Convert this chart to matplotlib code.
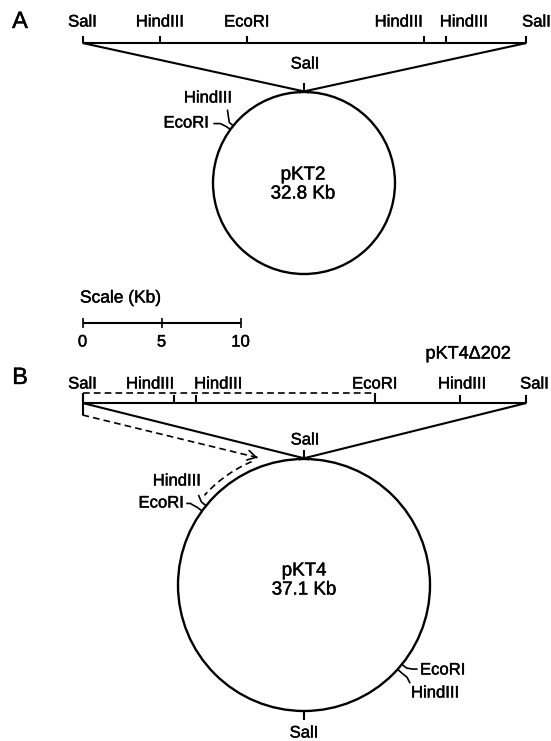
import numpy as np
import matplotlib.pyplot as plt
import matplotlib.patheffects as pe
from matplotlib.patches import Circle, FancyArrowPatch

plt.rcParams['font.family'] = ['Liberation Sans', 'DejaVu Sans']

# SalI fragments, site positions in kb from the left SalI site
frag_a_kb = [0.0, 4.9, 10.4, 21.6, 23.0, 28.1]
frag_a_names = ['SalI', 'HindIII', 'EcoRI', 'HindIII', 'HindIII', 'SalI']
frag_b_kb = [0.0, 5.8, 7.2, 18.5, 23.9, 28.1]
frag_b_names = ['SalI', 'HindIII', 'HindIII', 'EcoRI', 'HindIII', 'SalI']
deletion_kb = [0.0, 18.5]          # pKT4 delta202 region
deletion_name = 'pKT4\u0394202'

# plasmids: sites in degrees clockwise from top
pkt2_name, pkt2_size = 'pKT2', '32.8 Kb'
pkt2_deg = [0, 309, 306]
pkt2_names = ['SalI', 'HindIII', 'EcoRI']
pkt4_name, pkt4_size = 'pKT4', '37.1 Kb'
pkt4_deg = [0, 309, 306, 129, 132, 180]
pkt4_names = ['SalI', 'HindIII', 'EcoRI', 'EcoRI', 'HindIII', 'SalI']

scale_kb = [0, 5, 10]

# layout (pixel units of the figure)
PX_KB = 15.8
X0 = 82.5
LW = 1.5
FS_SITE = 12
FS_MID = 13.5
HEAVY = [pe.withStroke(linewidth=0.3, foreground='black')]

fig = plt.figure(figsize=(5.51, 7.41), dpi=100)
ax = fig.add_axes([0, 0, 1, 1])
ax.set_xlim(0, 551)
ax.set_ylim(741, 0)
ax.axis('off')


def kx(kb):
    return X0 + kb * PX_KB


def cpt(c, r, deg):
    a = np.radians(deg)
    return c[0] + r * np.sin(a), c[1] - r * np.cos(a)


def line(pts, **kw):
    pts = np.array(pts, dtype=float)
    kw.setdefault('color', 'black')
    kw.setdefault('lw', LW)
    ax.plot(pts[:, 0], pts[:, 1], solid_capstyle='butt', **kw)


def label(x, y, s, ha='center', size=FS_SITE, **kw):
    ax.text(x, y, s, ha=ha, va='center', fontsize=size, path_effects=HEAVY, **kw)


# ---------------- panel A ----------------
label(20, 22, 'A', size=17)
ya = 43
line([(kx(frag_a_kb[0]), ya), (kx(frag_a_kb[-1]), ya)])
a_lab_dx = [0, 0, 0, -25, 18, 10]
for kb, nm, dx in zip(frag_a_kb, frag_a_names, a_lab_dx):
    line([(kx(kb), ya), (kx(kb), ya - 7)])
    label(kx(kb) + dx, 22, nm)

ca, ra = (304, 183), 91
ax.add_patch(Circle(ca, ra, fill=False, lw=1.7, ec='black'))
line([(kx(frag_a_kb[0]), ya), (ca[0] + 5, ca[1] - ra + 0.5)])
line([(kx(frag_a_kb[-1]), ya), (ca[0] - 5, ca[1] - ra + 0.5)])
label(ca[0] - 1, ca[1] - 8, pkt2_name, size=FS_MID)
label(ca[0] - 1, ca[1] + 11, pkt2_size, size=FS_MID)

# SalI top
p0, p1 = cpt(ca, ra, pkt2_deg[0]), cpt(ca, ra + 9, pkt2_deg[0])
line([p0, p1])
label(p0[0] + 1, 64, pkt2_names[0])
# HindIII
p0, p1 = cpt(ca, ra, pkt2_deg[1]), cpt(ca, ra + 5, pkt2_deg[1])
line([p0, p1, (p1[0] - 1, p1[1] - 6), (p1[0] - 2, p1[1] - 13)], lw=1.2)
label(208, 98, pkt2_names[1])
# EcoRI
p0, p1 = cpt(ca, ra, pkt2_deg[2]), cpt(ca, ra + 5, pkt2_deg[2])
line([p0, p1, (p1[0] - 6, p1[1] - 3), (p1[0] - 13, p1[1] - 3)], lw=1.2)
label(209, 123, pkt2_names[2], ha='right')

# ---------------- scale bar ----------------
ys = 323
label(80, 298, 'Scale (Kb)', ha='left', size=12.5)
line([(kx(scale_kb[0]), ys), (kx(scale_kb[-1]), ys)])
for v in scale_kb:
    line([(kx(v), ys - 5), (kx(v), ys + 5)], lw=1.2)
    label(kx(v), 342, str(v), size=12)

# ---------------- panel B ----------------
label(20, 378, 'B', size=17)
label(468, 354, deletion_name, size=13)
yb, yd = 403, 393
line([(kx(frag_b_kb[0]), yb), (kx(frag_b_kb[-1]), yb)])
b_lab_dx = [0, -24, 22, 0, 2, 8]
for kb, nm, dx in zip(frag_b_kb, frag_b_names, b_lab_dx):
    top = yd if kb == deletion_kb[1] else yb - 8
    line([(kx(kb), yb), (kx(kb), top)])
    label(kx(kb) + dx, 384, nm)
# deletion bracket
line([(kx(deletion_kb[0]), yd), (kx(deletion_kb[1]), yd)], lw=1.2, ls=(0, (4, 2.5)))
line([(kx(deletion_kb[0]), yd), (kx(deletion_kb[0]), 415)])

cb, rb = (304, 585), 126
ax.add_patch(Circle(cb, rb, fill=False, lw=1.7, ec='black'))
line([(kx(frag_b_kb[0]), yb), (cb[0] + 5, cb[1] - rb + 0.5)])
line([(kx(frag_b_kb[-1]), yb), (cb[0] - 5, cb[1] - rb + 0.5)])
label(cb[0], cb[1] - 14, pkt4_name, size=FS_MID)
label(cb[0], cb[1] + 5, pkt4_size, size=FS_MID)

# dashed arrow from the deletion to the plasmid
tip = cpt(cb, rb + 8, 341)
line([(kx(deletion_kb[0]), 415), tip], lw=1.2, ls=(0, (4, 2.5)))
d = np.array(tip) - np.array([kx(deletion_kb[0]), 415])
d = d / np.hypot(*d)
ax.add_patch(FancyArrowPatch(tuple(np.array(tip) - d * 7), tip,
                             arrowstyle='->,head_length=6,head_width=3.5',
                             lw=1.2, color='black', mutation_scale=1))
arc_deg = np.linspace(337, 312, 40)
arc = np.array([cpt(cb, rb + 8, a) for a in arc_deg])
line(arc, lw=1.2, ls=(0, (4, 2.5)))

# SalI top / bottom
p0, p1 = cpt(cb, rb, pkt4_deg[0]), cpt(cb, rb + 9, pkt4_deg[0])
line([p0, p1])
label(p0[0] + 1, 440, pkt4_names[0])
p0, p1 = cpt(cb, rb, pkt4_deg[5]), cpt(cb, rb + 9, pkt4_deg[5])
line([p0, p1])
label(p0[0], 733, pkt4_names[5])
# left HindIII / EcoRI
p0, p1 = cpt(cb, rb, pkt4_deg[1]), cpt(cb, rb + 6, pkt4_deg[1])
line([p0, p1, (p1[0] - 3, p1[1] - 7)], lw=1.2)
label(201, 481, pkt4_names[1], ha='right')
p0, p1 = cpt(cb, rb, pkt4_deg[2]), cpt(cb, rb + 6, pkt4_deg[2])
line([p0, p1, (p1[0] - 7, p1[1] - 4), (p1[0] - 11, p1[1] - 4)], lw=1.2)
label(184, 503, pkt4_names[2], ha='right')
# right EcoRI / HindIII
p0, p1 = cpt(cb, rb, pkt4_deg[3]), cpt(cb, rb + 6, pkt4_deg[3])
line([p0, p1, (p1[0] + 6, p1[1] + 1), (p1[0] + 11, p1[1] + 1)], lw=1.2)
label(420, 670, pkt4_names[3], ha='left')
p0, p1 = cpt(cb, rb, pkt4_deg[4]), cpt(cb, rb + 6, pkt4_deg[4])
line([p0, p1, (p1[0] + 5, p1[1] + 4), (p1[0] + 8, p1[1] + 10)], lw=1.2)
label(411, 693, pkt4_names[4], ha='left')

fig.savefig('out.png', dpi=100, facecolor='white')
